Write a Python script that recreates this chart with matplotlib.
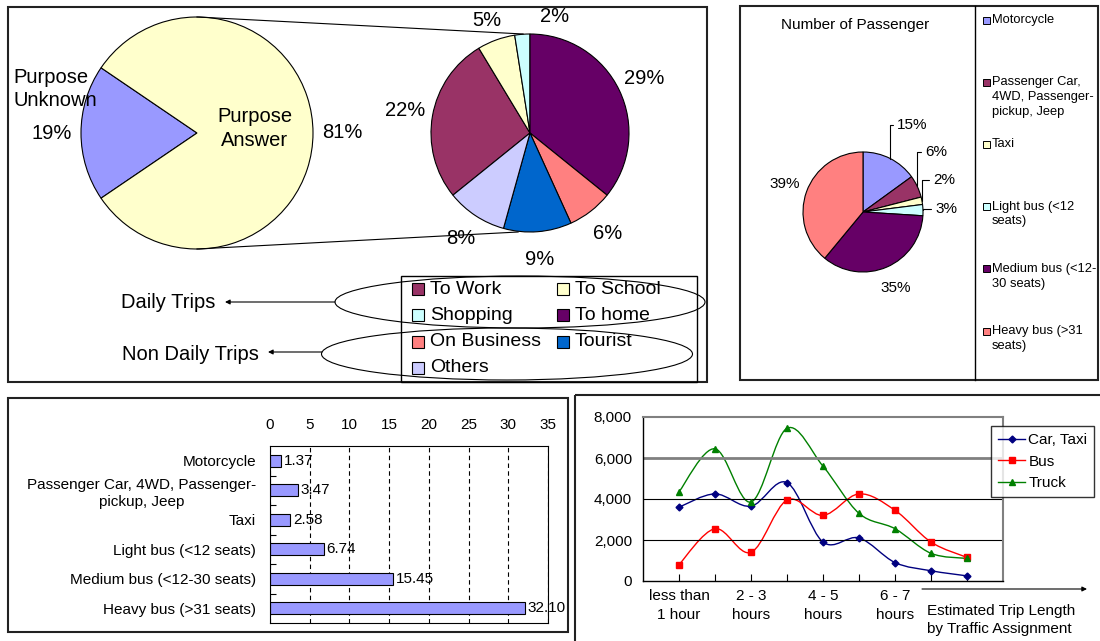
import numpy as np
import matplotlib
matplotlib.use("Agg")
import matplotlib.pyplot as plt
from matplotlib.patches import Rectangle, Ellipse, PathPatch
from matplotlib.path import Path
from matplotlib.lines import Line2D
from matplotlib.ticker import FuncFormatter

plt.rcParams['font.family'] = ['Liberation Sans', 'DejaVu Sans']

W, H = 1100, 641

# ---- data ----
purpose_labels = ['Purpose\nUnknown', 'Purpose\nAnswer']
purpose_pct = [19, 81]
purpose_colors = ['#9999FF', '#FFFFCC']

trip_labels = ['To Work', 'To School', 'Shopping', 'To home',
               'On Business', 'Tourist', 'Others']
trip_pct = [22, 5, 2, 29, 6, 9, 8]
trip_colors = ['#993366', '#FFFFCC', '#CCFFFF', '#660066',
               '#FF8080', '#0066CC', '#CCCCFF']

veh_labels = ['Motorcycle', 'Passenger Car,\n4WD, Passenger-\npickup, Jeep', 'Taxi',
              'Light bus (<12\nseats)', 'Medium bus (<12-\n30 seats)', 'Heavy bus (>31\nseats)']
veh_share = [15, 6, 2, 3, 35, 39]
veh_colors = ['#9999FF', '#993366', '#FFFFCC', '#CCFFFF', '#660066', '#FF8080']

occ_labels = ['Motorcycle', 'Passenger Car, 4WD, Passenger-\npickup, Jeep', 'Taxi',
              'Light bus (<12 seats)', 'Medium bus (<12-30 seats)', 'Heavy bus (>31 seats)']
occupancy = [1.37, 3.47, 2.58, 6.74, 15.45, 32.10]

hours = ['less than\n1 hour', '', '2 - 3\nhours', '', '4 - 5\nhours', '',
         '6 - 7\nhours', '', '']
car_taxi = [3600, 4250, 3650, 4800, 1900, 2100, 900, 500, 250]
bus = [800, 2550, 1400, 3950, 3200, 4250, 3450, 1900, 1150]
truck = [4350, 6450, 3850, 7450, 5600, 3300, 2550, 1350, 1100]


def box(x0, y0, x1, y1):
    return [x0 / W, 1 - y1 / H, (x1 - x0) / W, (y1 - y0) / H]


def pie_axes(cx, cy, r):
    ax = fig.add_axes(box(cx - r, cy - r, cx + r, cy + r))
    return ax


def fix_pie(ax):
    ax.set_xlim(-1, 1)
    ax.set_ylim(-1, 1)
    ax.axis('off')


def smooth_path(xs, ys):
    # excel-like smoothed line through the points (cubic bezier segments)
    pts = np.column_stack([xs, ys]).astype(float)
    ext = np.vstack([pts[0], pts, pts[-1]])
    verts = [pts[0]]
    codes = [Path.MOVETO]
    for i in range(len(pts) - 1):
        p0, p1, p2, p3 = ext[i], ext[i + 1], ext[i + 2], ext[i + 3]
        verts += [p1 + (p2 - p0) / 6, p2 - (p3 - p1) / 6, p2]
        codes += [Path.CURVE4] * 3
    return Path(verts, codes)


fig = plt.figure(figsize=(W / 100, H / 100), dpi=100)
wp = dict(edgecolor='black', linewidth=0.8)

# ---- big pie: purpose answered / unknown ----
c1, r1 = (197, 133), 116
ax1 = pie_axes(*c1, r1)
w1, t1 = ax1.pie(purpose_pct, colors=purpose_colors,
                 startangle=180 - 180 * purpose_pct[0] / sum(purpose_pct),
                 labels=[f'{v}%' for v in purpose_pct], labeldistance=1.25,
                 wedgeprops=wp, textprops=dict(fontsize=14.5))
for t in t1:
    t.set_ha('center')
fix_pie(ax1)
ax1.text(-1.586, 0.38, purpose_labels[0], ha='left', va='center',
         fontsize=14.5, linespacing=1.3)
ax1.text(0.5, 0.04, purpose_labels[1], ha='center', va='center',
         fontsize=14.5, linespacing=1.35)

# ---- small pie: trip purposes ----
c2, r2 = (530, 133), 99
ax2 = pie_axes(*c2, r2)
start = 90 + 360 * sum(trip_pct[:3]) / sum(trip_pct)
w2, t2 = ax2.pie(trip_pct, colors=trip_colors, startangle=start, counterclock=False,
                 labels=[f'{v}%' for v in trip_pct], labeldistance=1.28,
                 wedgeprops=wp, textprops=dict(fontsize=14.5))
for t in t2:
    t.set_ha('center')
t2[2].set_position((1.2 * np.cos(np.deg2rad(78)), 1.2 * np.sin(np.deg2rad(78))))
t2[1].set_position((1.22 * np.cos(np.deg2rad(111)), 1.22 * np.sin(np.deg2rad(111))))
fix_pie(ax2)

# ---- right pie: number of passenger ----
c3, r3 = (863, 212), 60
ax3 = pie_axes(*c3, r3)
w3, _ = ax3.pie(veh_share, colors=veh_colors, startangle=90, counterclock=False,
                wedgeprops=wp)
fix_pie(ax3)
lead_pos = {0: (0.57, 1.45), 1: (1.03, 1.0), 2: (1.17, 0.53), 3: (1.2, 0.05)}
for i, (w, v) in enumerate(zip(w3, veh_share)):
    mid = np.deg2rad((w.theta1 + w.theta2) / 2)
    if i in lead_pos:
        ax3.annotate(f'{v}%', xy=(np.cos(mid), np.sin(mid)), xytext=lead_pos[i],
                     ha='left', va='center', fontsize=11,
                     arrowprops=dict(arrowstyle='-', color='black', lw=0.8,
                                     connectionstyle='angle,angleA=0,angleB=90,rad=0',
                                     shrinkA=1, shrinkB=0))
    else:
        ax3.text(1.38 * np.cos(mid), 1.38 * np.sin(mid), f'{v}%',
                 ha='center', va='center', fontsize=11)

# ---- bar chart: occupancy ----
ax4 = fig.add_axes(box(270, 446, 548, 623))
ypos = np.arange(len(occupancy))
bars = ax4.barh(ypos, occupancy, height=0.4, color='#9999FF',
                edgecolor='black', linewidth=0.8)
ax4.set_xlim(0, 35)
ax4.set_ylim(len(occupancy) - 0.5, -0.5)
ax4.xaxis.tick_top()
ax4.set_xticks(range(0, 36, 5))
ax4.tick_params(axis='x', length=0, pad=10, labelsize=11)
ax4.set_yticks(ypos, occ_labels)
ax4.set_yticks(ypos[:-1] + 0.5, minor=True)
ax4.tick_params(axis='y', which='major', length=0, pad=10, labelsize=11)
ax4.tick_params(axis='y', which='minor', length=4, direction='in', width=0.8)
for lab in ax4.get_yticklabels():
    lab.set_multialignment('center')
    lab.set_linespacing(1.3)
ax4.grid(axis='x', color='black', lw=0.8, linestyle=(0, (4, 3)))
ax4.set_axisbelow(True)
for s in ax4.spines.values():
    s.set_linewidth(0.8)
ax4.bar_label(bars, labels=[f'{v:.2f}' for v in occupancy], padding=2, fontsize=11)

# ---- line chart: trip length ----
ax5 = fig.add_axes(box(643, 417, 1003, 581))
xs = np.arange(1, len(car_taxi) + 1)
series = [('Car, Taxi', car_taxi, '#000080', 'D', 3.5),
          ('Bus', bus, '#FF0000', 's', 4.5),
          ('Truck', truck, '#008000', '^', 5)]
handles = []
for name, vals, col, mk, ms in series:
    ax5.add_patch(PathPatch(smooth_path(xs, vals), fill=False, edgecolor=col, lw=1))
    ax5.plot(xs, vals, ls='none', marker=mk, ms=ms, color=col)
    handles.append(Line2D([], [], color=col, marker=mk, ms=ms, lw=1))
ax5.set_xlim(0, 10)
ax5.set_ylim(0, 8000)
ax5.set_yticks(range(0, 8001, 2000))
ax5.yaxis.set_major_formatter(FuncFormatter(lambda v, p: f'{v:,.0f}'))
ax5.tick_params(axis='y', length=0, pad=8, labelsize=11)
ax5.set_xticks(xs, hours)
ax5.tick_params(axis='x', length=5, direction='in', pad=6, labelsize=11, width=0.8)
for lab in ax5.get_xticklabels():
    lab.set_linespacing(1.4)
ax5.grid(axis='y', color='black', lw=0.8)
for gl, v in zip(ax5.get_ygridlines(), ax5.get_yticks()):
    if v in (0, 8000):
        gl.set_visible(False)
    elif v == 6000:
        gl.set_color('#808080')
        gl.set_linewidth(2)
for side in ('top', 'right'):
    ax5.spines[side].set_color('#808080')
    ax5.spines[side].set_linewidth(1.5)
for side in ('left', 'bottom'):
    ax5.spines[side].set_linewidth(1)
leg = fig.legend(handles, [s[0] for s in series], loc='upper left',
                 bbox_to_anchor=(991 / W, 1 - 426 / H), frameon=True, fancybox=False,
                 edgecolor='black', fontsize=11, handlelength=1.8, handletextpad=0.2,
                 labelspacing=0.5, borderpad=0.45, borderaxespad=0)
leg.get_frame().set_linewidth(1)

# ---- overlay: frames, legends, notes ----
ov = fig.add_axes([0, 0, 1, 1])
ov.set_xlim(0, W)
ov.set_ylim(H, 0)
ov.axis('off')

for x0, y0, x1, y1 in [(8, 7, 707, 382), (740, 6, 1098, 380), (8, 398, 568, 632),
                       (575, 395, 1110, 660)]:
    ov.add_patch(Rectangle((x0, y0), x1 - x0, y1 - y0, fill=False,
                           edgecolor='#222222', lw=1.5))
ov.plot([975, 975], [6, 380], color='black', lw=1)

# connectors between the two left pies
ov.plot([c1[0], c2[0] - 0.07 * r2], [c1[1] - r1, c2[1] - r2], color='black', lw=0.8)
ov.plot([c1[0], c2[0] - 0.12 * r2], [c1[1] + r1, c2[1] + r2], color='black', lw=0.8)

# trip purpose legend (row-wise like excel)
ov.add_patch(Rectangle((401, 276), 296, 106, fill=False, edgecolor='black', lw=1))
for k, (lab, col) in enumerate(zip(trip_labels, trip_colors)):
    row, colm = divmod(k, 2)
    x = 412 + 145 * colm
    y = 289 + 26.3 * row
    ov.add_patch(Rectangle((x, y - 6), 12, 12, facecolor=col, edgecolor='black', lw=0.8))
    ov.text(x + 18, y, lab, ha='left', va='center', fontsize=14)

ov.add_patch(Ellipse((520, 302), 370, 52, fill=False, edgecolor='black', lw=0.8))
ov.add_patch(Ellipse((507, 354), 371, 52, fill=False, edgecolor='black', lw=0.8))
ov.text(121, 302, 'Daily Trips', ha='left', va='center', fontsize=14.5)
ov.text(122, 354, 'Non Daily Trips', ha='left', va='center', fontsize=14.5)
arr = dict(arrowstyle='-|>', color='black', lw=0.8, mutation_scale=7,
           shrinkA=0, shrinkB=0)
ov.annotate('', xy=(225, 302), xytext=(335, 302), arrowprops=arr)
ov.annotate('', xy=(268, 352), xytext=(322, 352), arrowprops=arr)

# number of passenger legend
ov.text(855, 25, 'Number of Passenger', ha='center', va='center', fontsize=11)
for k, (lab, col) in enumerate(zip(veh_labels, veh_colors)):
    y = 20 + 62.2 * k
    ov.add_patch(Rectangle((983, y - 3.5), 7, 7, facecolor=col, edgecolor='black', lw=0.7))
    ov.text(992, y - 6, lab, ha='left', va='top', fontsize=9.3, linespacing=1.3)

# trip length axis note
ov.annotate('', xy=(1087, 589), xytext=(922, 589), arrowprops=arr)
ov.text(927, 620, 'Estimated Trip Length\nby Traffic Assignment', ha='left',
        va='center', fontsize=11, linespacing=1.4)

fig.savefig('out.png', dpi=100)
